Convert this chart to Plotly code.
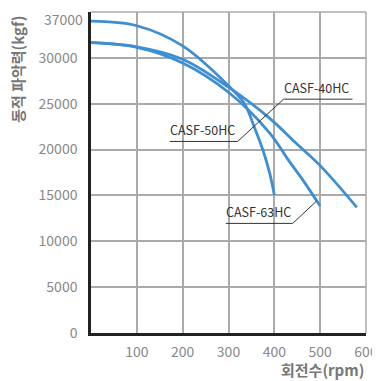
import plotly.graph_objects as go

# Data (rpm vs dynamic gripping force, kgf on display scale)
rpm_a = [0, 100, 200, 300, 335, 357, 375, 390, 400]
kgf_a = [34000, 33500, 31300, 26950, 25000, 22350, 19950, 17400, 15050]

rpm_b = [0, 100, 200, 300, 390, 430, 462, 500]
kgf_b = [31650, 31150, 29450, 26250, 21800, 18900, 16700, 13840]

rpm_c = [0, 100, 200, 300, 390, 444, 500, 580]
kgf_c = [31650, 31200, 29850, 26800, 23400, 20850, 18250, 13700]

x_ticks = [100, 200, 300, 400, 500, 600]
y_ticks = [0, 5000, 10000, 15000, 20000, 25000, 30000, 35000]
y_tick_text = ["0", "5000", "10000", "15000", "20000", "25000", "30000", ""]
y_top_label = "37000"

labels = ["CASF-40HC", "CASF-50HC", "CASF-63HC"]

BLUE = "#3d8fd4"
GRID = "#aaaaaa"
FONT = "Noto Sans CJK KR"
TICKFONT = dict(family=FONT, size=14, color="#888888")

fig = go.Figure()

# border gridlines at the far ends (plotly drops gridlines at the range ends)
fig.add_shape(type="line", xref="paper", yref="paper", x0=0, x1=1, y0=1, y1=1,
              line=dict(color=GRID, width=1.5), layer="below")
fig.add_shape(type="line", xref="paper", yref="paper", x0=1, x1=1, y0=0, y1=1,
              line=dict(color=GRID, width=1.5), layer="below")

for xs, ys in [(rpm_a, kgf_a), (rpm_b, kgf_b), (rpm_c, kgf_c)]:
    fig.add_trace(go.Scatter(x=xs, y=ys, mode="lines",
                             line=dict(color=BLUE, width=2.8, shape="spline", smoothing=1.0),
                             showlegend=False, hoverinfo="skip"))

# leader lines + underlines
line_style = dict(color="#333333", width=1)
# CASF-40HC
fig.add_shape(type="line", x0=420.3, y0=25496, x1=570.6, y1=25496, line=line_style)
fig.add_shape(type="line", x0=420.3, y0=25496, x1=363.7, y1=22907, line=line_style)
# CASF-50HC
fig.add_shape(type="line", x0=172, y0=20886, x1=320, y1=20886, line=line_style)
fig.add_shape(type="line", x0=320, y0=20886, x1=363.7, y1=22907, line=line_style)
# CASF-63HC
fig.add_shape(type="line", x0=294, y0=11950, x1=440, y1=11950, line=line_style)
fig.add_shape(type="line", x0=440, y0=11950, x1=492.2, y1=14386, line=line_style)

ann_font = dict(family=FONT, size=12.5, color="#333333")
for txt, (ax, ay) in zip(labels, [(420.3, 25496), (172, 20886), (294, 11950)]):
    fig.add_annotation(x=ax, y=ay, text=txt, showarrow=False, xanchor="left",
                       yanchor="bottom", font=ann_font, xshift=-2, yshift=0)

# top y label (kept inside the page so it is not clipped)
fig.add_annotation(xref="paper", yref="y", x=0, y=y_ticks[-1], text=y_top_label,
                   showarrow=False, xanchor="right", yanchor="top", font=TICKFONT,
                   xshift=-7, yshift=4, borderpad=0)

fig.add_annotation(xref="paper", yref="paper", x=1.0, y=-0.115, text="<b>회전수(rpm)</b>",
                   showarrow=False, xanchor="right", yanchor="middle",
                   font=dict(family=FONT, size=15, color="#777777"))
fig.add_annotation(xref="paper", yref="paper", x=-0.27, y=0.995, text="<b>동적 파악력(kgf)</b>",
                   showarrow=False, textangle=-90, xanchor="center", yanchor="top",
                   font=dict(family=FONT, size=15, color="#777777"))

fig.update_layout(
    width=372, height=373,
    margin=dict(l=83, r=14, t=4, b=48, autoexpand=False),
    paper_bgcolor="white", plot_bgcolor="white",
    font=dict(family=FONT),
)
fig.update_xaxes(range=[0, 600], tickvals=x_ticks, showgrid=True, gridcolor=GRID,
                 gridwidth=1.5, showline=True, linecolor="#222222", linewidth=2.5,
                 zeroline=False, ticks="", tickfont=TICKFONT,
                 ticklabelstandoff=4, automargin=False, ticklabeloverflow="allow")
fig.update_yaxes(range=[0, 35000], tickvals=y_ticks, ticktext=y_tick_text, showgrid=True,
                 gridcolor=GRID, gridwidth=1.5, showline=True, linecolor="#222222",
                 linewidth=2.5, zeroline=False, ticks="",
                 tickfont=TICKFONT, ticklabelstandoff=8,
                 automargin=False, ticklabeloverflow="allow")

fig.write_html("out.html")
